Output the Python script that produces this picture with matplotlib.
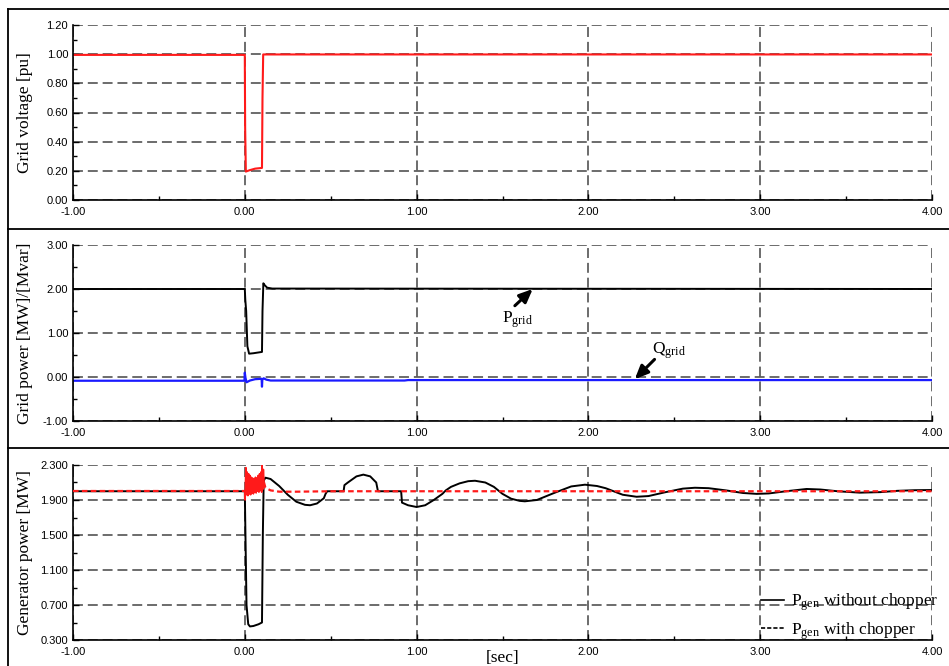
import matplotlib
matplotlib.use("Agg")
import matplotlib.pyplot as plt
from matplotlib.lines import Line2D
import numpy as np

plt.rcParams['mathtext.fontset'] = 'custom'
plt.rcParams['mathtext.rm'] = 'Liberation Serif'
plt.rcParams['mathtext.it'] = 'Liberation Serif:italic'

# ---- data ----
# grid voltage [pu]
volt_t = [-1.0, 0.0, 0.002, 0.006, 0.03, 0.06, 0.1, 0.103, 0.107, 1.0, 4.0]
volt_v = [0.995, 0.995, 0.5, 0.195, 0.205, 0.215, 0.22, 0.7, 0.998, 0.998, 0.998]

# grid active power [MW]
pgrid_t = [-1.0, 0.0, 0.003, 0.008, 0.015, 0.025, 0.05, 0.1, 0.103, 0.108,
           0.115, 0.13, 0.16, 4.0]
pgrid_v = [2.0, 2.0, 1.75, 1.5, 0.7, 0.53, 0.54, 0.57, 1.5, 2.13,
           2.09, 2.03, 2.01, 2.0]

# grid reactive power [Mvar]
qgrid_t = [-1.0, -0.002, 0.0, 0.004, 0.01, 0.03, 0.06, 0.098, 0.1, 0.102,
           0.11, 0.125, 0.15, 0.93, 0.95, 4.0]
qgrid_v = [-0.085, -0.085, 0.1, -0.02, -0.12, -0.08, -0.05, -0.04, -0.22, -0.06,
           -0.03, -0.06, -0.08, -0.08, -0.07, -0.07]

# generator power without chopper [MW]
pgen_t = [-1.0, 0.0, 0.003, 0.01, 0.02, 0.03, 0.05, 0.08, 0.1, 0.105,
          0.11, 0.12, 0.15, 0.2, 0.25, 0.3, 0.35, 0.38, 0.42, 0.46,
          0.47, 0.48, 0.575, 0.58, 0.6, 0.65, 0.69, 0.73, 0.765, 0.775,
          0.91, 0.915, 0.95, 1.0, 1.05, 1.1, 1.15, 1.17, 1.2, 1.25,
          1.3, 1.34, 1.4, 1.45, 1.5, 1.55, 1.6, 1.63, 1.7, 1.8,
          1.9, 1.98, 2.05, 2.1, 2.2, 2.28, 2.35, 2.45, 2.55, 2.62,
          2.7, 2.8, 2.9, 2.98, 3.05, 3.15, 3.27, 3.35, 3.45, 3.58,
          3.7, 3.8, 3.9, 4.0]
pgen_v = [2.0, 2.0, 1.6, 0.7, 0.48, 0.455, 0.46, 0.48, 0.5, 1.5,
          2.12, 2.155, 2.14, 2.06, 1.96, 1.88, 1.845, 1.84, 1.86, 1.92,
          1.97, 2.0, 2.0, 2.07, 2.1, 2.17, 2.19, 2.17, 2.1, 2.0,
          2.0, 1.87, 1.84, 1.82, 1.84, 1.9, 1.97, 2.01, 2.05, 2.09,
          2.115, 2.12, 2.1, 2.05, 1.97, 1.915, 1.89, 1.885, 1.9, 1.98,
          2.055, 2.075, 2.06, 2.035, 1.96, 1.937, 1.945, 1.99, 2.03, 2.04,
          2.035, 2.01, 1.98, 1.97, 1.975, 2.0, 2.026, 2.02, 2.0, 1.984,
          1.99, 2.005, 2.012, 2.014]

# generator power with chopper [MW]
chop_t = [-1.0, 0.0, 0.002, 0.006, 0.01, 0.014, 0.018, 0.022, 0.026, 0.03,
          0.034, 0.038, 0.042, 0.046, 0.05, 0.054, 0.058, 0.062, 0.066, 0.07,
          0.074, 0.078, 0.082, 0.086, 0.09, 0.094, 0.098, 0.1, 0.104, 0.108,
          0.112, 0.12, 0.15, 0.2, 0.3, 0.5, 4.0]
chop_v = [2.0, 2.0, 1.9, 2.27, 1.96, 2.22, 1.95, 2.2, 1.97, 2.18,
          1.96, 2.16, 1.98, 2.15, 1.97, 2.14, 1.99, 2.16, 1.98, 2.15,
          2.0, 2.18, 1.99, 2.2, 2.01, 2.22, 1.99, 2.3, 2.02, 2.25,
          2.1, 2.04, 2.01, 1.995, 1.995, 2.0, 2.0]

x_ticks = [-1.0, 0.0, 1.0, 2.0, 3.0, 4.0]

W, H = 949, 666
fig = plt.figure(figsize=(W / 100, H / 100), dpi=100)


def px_axes(top, bottom, left=73, right=932):
    return fig.add_axes([left / W, 1 - bottom / H, (right - left) / W, (bottom - top) / H])


def style_axes(ax, ylim, ystep, yfmt, ylabel):
    ax.set_xlim(-1, 4)
    ax.set_ylim(*ylim)
    ax.set_xticks(x_ticks)
    ax.set_xticks(np.arange(-0.5, 4.0, 1.0), minor=True)
    yt = np.arange(ylim[0], ylim[1] + ystep / 2, ystep)
    ax.set_yticks(yt)
    ax.set_yticks(yt[:-1] + ystep / 2, minor=True)
    ax.set_xticklabels(['%.2f' % v for v in x_ticks])
    ax.set_yticklabels([yfmt % v for v in yt])
    for s in ('top', 'right'):
        ax.spines[s].set_visible(False)
    for s in ('left', 'bottom'):
        ax.spines[s].set_linewidth(1.2)
    ax.tick_params(which='both', direction='in', labelsize=8, width=1)
    ax.tick_params(which='major', length=4)
    ax.tick_params(which='minor', length=3)
    ax.tick_params(axis='x', pad=5)
    for lab in ax.get_xticklabels() + ax.get_yticklabels():
        lab.set_family('Liberation Sans')
    ax.grid(True, which='major', color='#444444', linestyle=(0, (6.5, 3.2)), linewidth=1.1)
    ax.set_ylabel(ylabel, family='Liberation Serif', fontsize=12.5)
    ax.yaxis.set_label_coords(-0.047, 0.5)
    ax.patch.set_alpha(0)


arrow_style = dict(arrowstyle='-|>,head_length=0.8,head_width=0.35', color='black', lw=2.2,
                   shrinkA=0, shrinkB=0)

# panel 1: grid voltage
ax1 = px_axes(25, 200)
ax1.plot(volt_t, volt_v, color='#ff1a1a', lw=1.5)
style_axes(ax1, (0.0, 1.2), 0.2, '%.2f', 'Grid voltage [pu]')

# panel 2: grid power
ax2 = px_axes(245, 421)
ax2.plot(pgrid_t, pgrid_v, color='black', lw=1.4)
ax2.plot(qgrid_t, qgrid_v, color='#1a1aff', lw=1.6)
style_axes(ax2, (-1.0, 3.0), 1.0, '%.2f', 'Grid power [MW]/[Mvar]')
ax2.annotate('', xy=(1.676, 2.0), xytext=(1.572, 1.62), arrowprops=arrow_style)
ax2.text(1.59, 1.3, r'$\mathrm{P_{grid}}$', fontsize=12.5, ha='center', va='center')
ax2.annotate('', xy=(2.27, -0.05), xytext=(2.385, 0.40), arrowprops=arrow_style)
ax2.text(2.47, 0.6, r'$\mathrm{Q_{grid}}$', fontsize=12.5, ha='center', va='center')

# panel 3: generator power
ax3 = px_axes(465, 640)
ct = np.array(chop_t)
cv = np.array(chop_v)
fault = (ct >= 0.0) & (ct <= 0.112)
ax3.plot(pgen_t, pgen_v, color='black', lw=1.4, zorder=3)
ax3.plot(ct[fault], cv[fault], color='#ff1a1a', lw=1.2, zorder=4)
pre = ct <= 0.0
post = ct >= 0.112
ax3.plot(ct[pre], cv[pre], color='#ff1a1a', lw=1.6, linestyle=(0, (2.5, 1.5)), zorder=4)
ax3.plot(ct[post], cv[post], color='#ff1a1a', lw=1.6, linestyle=(0, (2.5, 1.5)), zorder=4)
style_axes(ax3, (0.3, 2.3), 0.4, '%.3f', 'Generator power [MW]')

handles = [Line2D([], [], color='black', lw=1.2),
           Line2D([], [], color='black', lw=1.2, linestyle=(0, (2.5, 1.2)))]
labels = [r'$\mathrm{P_{gen}}$ without chopper', r'$\mathrm{P_{gen}}$ with chopper']
ax3.legend(handles, labels, loc='lower left', bbox_to_anchor=((761 - 73) / 859, -0.01),
           frameon=False, handlelength=1.3, handletextpad=0.4,
           labelspacing=0.4, borderpad=0.0, borderaxespad=0.0,
           prop={'family': 'Liberation Serif', 'size': 12.5})

fig.text(503 / W, 1 - 658 / H, '[sec]', family='Liberation Serif', fontsize=12.5,
         ha='center', va='center')

# outer frames around the panels
for y in (9, 229, 448):
    fig.add_artist(Line2D([8 / W, 1.0], [1 - y / H, 1 - y / H], color='black', lw=1.3,
                          transform=fig.transFigure))
fig.add_artist(Line2D([8 / W, 8 / W], [0.0, 1 - 9 / H], color='black', lw=1.3,
                      transform=fig.transFigure))

fig.savefig('out.png', dpi=100)
